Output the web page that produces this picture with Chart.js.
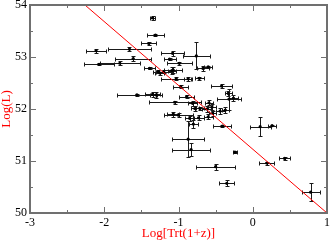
<!DOCTYPE html>
<html>
<head>
<meta charset="utf-8">
<script src="https://cdn.jsdelivr.net/npm/chart.js@4.4.1/dist/chart.umd.min.js"></script>
<style>
  html, body { margin: 0; padding: 0; background: #fff; }
  #c { display: block; }
</style>
</head>
<body>
<canvas id="c" width="331" height="240"></canvas>
<script>
// Log[Trt(1+z)] vs Log(L), with symmetric x/y errors
var xVals = [-1.35, -1.31, -1.40, -2.11, -1.66, -1.61, -2.07, -1.79, -1.39, -1.27,
             -1.20, -1.25, -1.07, -1.56, -1.35, -1.30, -1.05, -1.08, -0.76, -1.12,
             -0.99, -1.09, -0.67, -0.60, -1.03, -0.87, -0.72, -0.97, -0.42, -0.89,
             -0.32, -0.33, -0.26, -0.81, -0.59, -0.78, -0.71, -0.62, -0.55, -0.44,
             -0.37, -1.00, -1.07, -0.85, -0.73, -0.60, -0.54, -0.80, -0.41, 0.10,
             0.26, -0.87, -0.83, -0.24, 0.43, 0.19, -0.50, -0.35, 0.78];
var yVals = [53.75, 53.42, 53.26, 53.12, 53.15, 52.97, 52.86, 52.88, 52.78, 52.72,
             52.72, 52.69, 52.75, 52.27, 52.28, 52.27, 52.13, 53.07, 53.02, 52.96,
             52.88, 52.74, 52.78, 52.81, 52.58, 52.58, 52.59, 52.43, 52.44, 52.24,
             52.19, 52.30, 52.21, 52.11, 52.12, 52.01, 52.01, 52.00, 52.04, 51.96,
             51.98, 51.88, 51.90, 51.82, 51.83, 51.85, 51.92, 51.71, 51.67, 51.66,
             51.68, 51.42, 51.22, 51.17, 51.05, 50.96, 50.89, 50.57, 50.40];
var xErr = [0.03, 0.11, 0.10, 0.14, 0.29, 0.24, 0.20, 0.27, 0.07, 0.08,
            0.10, 0.06, 0.12, 0.27, 0.10, 0.08, 0.35, 0.15, 0.18, 0.08,
            0.17, 0.05, 0.08, 0.05, 0.20, 0.05, 0.06, 0.10, 0.14, 0.10,
            0.16, 0.05, 0.06, 0.06, 0.05, 0.05, 0.05, 0.06, 0.05, 0.06,
            0.05, 0.20, 0.08, 0.06, 0.07, 0.06, 0.05, 0.06, 0.12, 0.14,
            0.05, 0.22, 0.26, 0.03, 0.07, 0.10, 0.26, 0.10, 0.12];
var yErr = [0.03, 0.02, 0.02, 0.04, 0.04, 0.05, 0.02, 0.04, 0.02, 0.03,
            0.03, 0.03, 0.05, 0.02, 0.05, 0.06, 0.03, 0.05, 0.26, 0.02,
            0.03, 0.06, 0.05, 0.02, 0.03, 0.04, 0.03, 0.03, 0.04, 0.03,
            0.20, 0.05, 0.05, 0.05, 0.05, 0.04, 0.03, 0.06, 0.05, 0.05,
            0.05, 0.04, 0.05, 0.05, 0.05, 0.05, 0.05, 0.08, 0.02, 0.18,
            0.01, 0.35, 0.12, 0.02, 0.03, 0.03, 0.06, 0.06, 0.17];

// best-fit line end points
var fitX = [-2.26, 1.0];
var fitY = [54.0, 50.0];

var xMin = -3, xMax = 1;
var yMin = 50, yMax = 54;

var xTitle = 'Log[Trt(1+z)]';
var yTitle = 'Log(L)';

(function () {
  'use strict';

  function snap(v) { return Math.round(v) + 0.5; }

  var errorBars = {
    id: 'errorBars',
    beforeDatasetsDraw: function (chart) {
      var ctx = chart.ctx, sx = chart.scales.x, sy = chart.scales.y;
      var cap = 2;
      ctx.save();
      ctx.strokeStyle = '#1a1a1a';
      ctx.lineWidth = 1;
      ctx.beginPath();
      for (var i = 0; i < xVals.length; i++) {
        var px = snap(sx.getPixelForValue(xVals[i]));
        var py = snap(sy.getPixelForValue(yVals[i]));
        var x0 = snap(sx.getPixelForValue(xVals[i] - xErr[i]));
        var x1 = snap(sx.getPixelForValue(xVals[i] + xErr[i]));
        var y0 = snap(sy.getPixelForValue(yVals[i] - yErr[i]));
        var y1 = snap(sy.getPixelForValue(yVals[i] + yErr[i]));
        ctx.moveTo(x0, py); ctx.lineTo(x1, py);
        ctx.moveTo(x0, py - cap); ctx.lineTo(x0, py + cap);
        ctx.moveTo(x1, py - cap); ctx.lineTo(x1, py + cap);
        ctx.moveTo(px, y0); ctx.lineTo(px, y1);
        ctx.moveTo(px - cap, y0); ctx.lineTo(px + cap, y0);
        ctx.moveTo(px - cap, y1); ctx.lineTo(px + cap, y1);
      }
      ctx.stroke();
      ctx.restore();
    }
  };

  // box frame with inward major/minor ticks on all four sides
  var frame = {
    id: 'frame',
    afterDraw: function (chart) {
      var ctx = chart.ctx, a = chart.chartArea, sx = chart.scales.x, sy = chart.scales.y;
      ctx.save();
      ctx.strokeStyle = '#707070';
      ctx.lineWidth = 1;
      ctx.beginPath();
      var v, p, len;
      for (v = xMin; v <= xMax; v += 0.5) {
        p = snap(sx.getPixelForValue(v));
        len = (v % 1 === 0) ? 6 : 3;
        ctx.moveTo(p, a.bottom); ctx.lineTo(p, a.bottom - len);
        ctx.moveTo(p, a.top); ctx.lineTo(p, a.top + len);
      }
      for (v = yMin; v <= yMax; v += 0.5) {
        p = snap(sy.getPixelForValue(v));
        len = (v % 1 === 0) ? 6 : 3;
        ctx.moveTo(a.left, p); ctx.lineTo(a.left + len, p);
        ctx.moveTo(a.right, p); ctx.lineTo(a.right - len, p);
      }
      ctx.stroke();
      ctx.lineWidth = 2;
      ctx.strokeRect(a.left, a.top, a.right - a.left, a.bottom - a.top);
      ctx.restore();
    }
  };

  var points = xVals.map(function (x, i) { return { x: x, y: yVals[i] }; });
  var fitLine = fitX.map(function (x, i) { return { x: x, y: fitY[i] }; });

  var tickFont = { family: '"Liberation Serif", "DejaVu Serif", serif', size: 12 };
  var titleFont = { family: '"Liberation Serif", "DejaVu Serif", serif', size: 13, lineHeight: 1 };

  new Chart(document.getElementById('c').getContext('2d'), {
    type: 'scatter',
    data: {
      datasets: [
        {
          data: points,
          pointRadius: 1.6,
          pointBackgroundColor: '#000',
          pointBorderWidth: 0,
          order: 2
        },
        {
          type: 'line',
          data: fitLine,
          borderColor: '#ff0000',
          borderWidth: 1,
          pointRadius: 0,
          fill: false,
          order: 1
        }
      ]
    },
    options: {
      responsive: false,
      animation: false,
      events: [],
      layout: { padding: { top: 5, right: 4, left: 0, bottom: 0 } },
      plugins: { legend: { display: false }, tooltip: { enabled: false } },
      scales: {
        x: {
          type: 'linear',
          min: xMin,
          max: xMax,
          grid: { display: false, drawTicks: false },
          border: { display: false },
          ticks: { stepSize: 1, color: '#000', font: tickFont, padding: 3, maxRotation: 0 },
          title: { display: true, text: xTitle, color: '#ff0000', font: titleFont, padding: 0 },
          afterFit: function (s) { s.height = 27; s.paddingLeft = 0; s.paddingRight = 0; }
        },
        y: {
          type: 'linear',
          min: yMin,
          max: yMax,
          grid: { display: false, drawTicks: false },
          border: { display: false },
          ticks: { stepSize: 1, color: '#000', font: tickFont, padding: 3 },
          title: { display: true, text: yTitle, color: '#ff0000', font: titleFont, padding: 0 },
          afterFit: function (s) { s.width = 30; s.paddingTop = 0; s.paddingBottom = 0; }
        }
      }
    },
    plugins: [errorBars, frame]
  });
})();
</script>
</body>
</html>
